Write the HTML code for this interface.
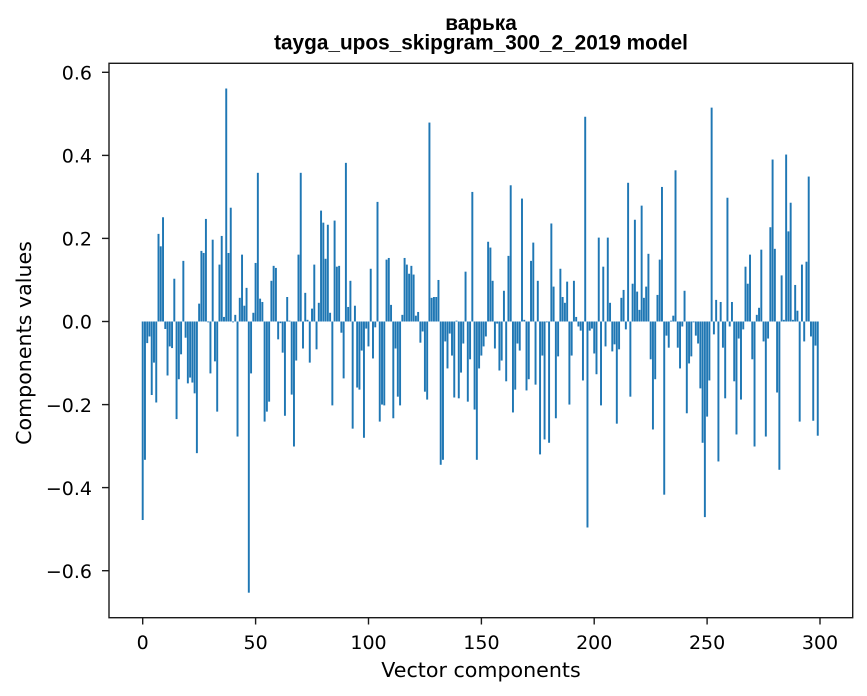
<!DOCTYPE html>
<html><head><meta charset="utf-8"><style>
html,body{margin:0;padding:0;background:#fff;}
svg{display:block;}
.t{font-family:"DejaVu Sans","Liberation Sans",sans-serif;font-size:19px;fill:#000;}
.l{font-family:"DejaVu Sans","Liberation Sans",sans-serif;font-size:20.6px;fill:#000;}
.ti{font-family:"Liberation Sans","DejaVu Sans",sans-serif;font-weight:bold;font-size:20.8px;fill:#000;}
</style></head><body>
<svg width="867" height="696" viewBox="0 0 867 696" xmlns="http://www.w3.org/2000/svg">
<rect x="0" y="0" width="867" height="696" fill="#fff"/>
<text class="ti" x="481" y="30" text-anchor="middle">варька</text>
<text class="ti" x="481" y="49.3" text-anchor="middle">tayga_upos_skipgram_300_2_2019 model</text>
<g transform="translate(142.7,321.5) scale(2.2577,-415.3)" fill="#1f77b4">
<rect x="-0.43" y="-0.478" width="0.86" height="0.478"/>
<rect x="0.57" y="-0.333" width="0.86" height="0.333"/>
<rect x="1.57" y="-0.052" width="0.86" height="0.052"/>
<rect x="2.57" y="-0.036" width="0.86" height="0.036"/>
<rect x="3.57" y="-0.177" width="0.86" height="0.177"/>
<rect x="4.57" y="-0.099" width="0.86" height="0.099"/>
<rect x="5.57" y="-0.195" width="0.86" height="0.195"/>
<rect x="6.57" y="0" width="0.86" height="0.211"/>
<rect x="7.57" y="0" width="0.86" height="0.181"/>
<rect x="8.57" y="0" width="0.86" height="0.251"/>
<rect x="9.57" y="-0.018" width="0.86" height="0.018"/>
<rect x="10.57" y="-0.130" width="0.86" height="0.130"/>
<rect x="11.57" y="-0.060" width="0.86" height="0.060"/>
<rect x="12.57" y="-0.064" width="0.86" height="0.064"/>
<rect x="13.57" y="0" width="0.86" height="0.103"/>
<rect x="14.57" y="-0.235" width="0.86" height="0.235"/>
<rect x="15.57" y="-0.139" width="0.86" height="0.139"/>
<rect x="16.57" y="-0.079" width="0.86" height="0.079"/>
<rect x="17.57" y="0" width="0.86" height="0.146"/>
<rect x="18.57" y="-0.039" width="0.86" height="0.039"/>
<rect x="19.57" y="-0.149" width="0.86" height="0.149"/>
<rect x="20.57" y="-0.135" width="0.86" height="0.135"/>
<rect x="21.57" y="-0.147" width="0.86" height="0.147"/>
<rect x="22.57" y="-0.173" width="0.86" height="0.173"/>
<rect x="23.57" y="-0.317" width="0.86" height="0.317"/>
<rect x="24.57" y="0" width="0.86" height="0.043"/>
<rect x="25.57" y="0" width="0.86" height="0.170"/>
<rect x="26.57" y="0" width="0.86" height="0.165"/>
<rect x="27.57" y="0" width="0.86" height="0.247"/>
<rect x="28.57" y="-0.002" width="0.86" height="0.002"/>
<rect x="29.57" y="-0.125" width="0.86" height="0.125"/>
<rect x="30.57" y="0" width="0.86" height="0.197"/>
<rect x="31.57" y="-0.096" width="0.86" height="0.096"/>
<rect x="32.57" y="-0.217" width="0.86" height="0.217"/>
<rect x="33.57" y="0" width="0.86" height="0.137"/>
<rect x="34.57" y="0" width="0.86" height="0.206"/>
<rect x="35.57" y="0" width="0.86" height="0.011"/>
<rect x="36.57" y="0" width="0.86" height="0.561"/>
<rect x="37.57" y="0" width="0.86" height="0.165"/>
<rect x="38.57" y="0" width="0.86" height="0.274"/>
<rect x="39.57" y="-0.002" width="0.86" height="0.002"/>
<rect x="40.57" y="0" width="0.86" height="0.016"/>
<rect x="41.57" y="-0.277" width="0.86" height="0.277"/>
<rect x="42.57" y="0" width="0.86" height="0.057"/>
<rect x="43.57" y="0" width="0.86" height="0.161"/>
<rect x="44.57" y="0" width="0.86" height="0.038"/>
<rect x="45.57" y="0" width="0.86" height="0.081"/>
<rect x="46.57" y="-0.653" width="0.86" height="0.653"/>
<rect x="47.57" y="-0.125" width="0.86" height="0.125"/>
<rect x="48.57" y="0" width="0.86" height="0.021"/>
<rect x="49.57" y="0" width="0.86" height="0.141"/>
<rect x="50.57" y="0" width="0.86" height="0.358"/>
<rect x="51.57" y="0" width="0.86" height="0.055"/>
<rect x="52.57" y="0" width="0.86" height="0.047"/>
<rect x="53.57" y="-0.241" width="0.86" height="0.241"/>
<rect x="54.57" y="-0.217" width="0.86" height="0.217"/>
<rect x="55.57" y="-0.193" width="0.86" height="0.193"/>
<rect x="56.57" y="0" width="0.86" height="0.098"/>
<rect x="57.57" y="0" width="0.86" height="0.134"/>
<rect x="58.57" y="0" width="0.86" height="0.129"/>
<rect x="59.57" y="-0.043" width="0.86" height="0.043"/>
<rect x="60.57" y="-0.004" width="0.86" height="0.004"/>
<rect x="61.57" y="-0.075" width="0.86" height="0.075"/>
<rect x="62.57" y="-0.227" width="0.86" height="0.227"/>
<rect x="63.57" y="0" width="0.86" height="0.059"/>
<rect x="64.57" y="0" width="0.86" height="0.002"/>
<rect x="65.57" y="-0.176" width="0.86" height="0.176"/>
<rect x="66.57" y="-0.301" width="0.86" height="0.301"/>
<rect x="67.57" y="-0.094" width="0.86" height="0.094"/>
<rect x="68.57" y="0" width="0.86" height="0.161"/>
<rect x="69.57" y="0" width="0.86" height="0.358"/>
<rect x="70.57" y="-0.065" width="0.86" height="0.065"/>
<rect x="71.57" y="0" width="0.86" height="0.069"/>
<rect x="72.57" y="0" width="0.86" height="0.004"/>
<rect x="73.57" y="-0.099" width="0.86" height="0.099"/>
<rect x="74.57" y="0" width="0.86" height="0.031"/>
<rect x="75.57" y="0" width="0.86" height="0.137"/>
<rect x="76.57" y="-0.067" width="0.86" height="0.067"/>
<rect x="77.57" y="0" width="0.86" height="0.045"/>
<rect x="78.57" y="0" width="0.86" height="0.267"/>
<rect x="79.57" y="0" width="0.86" height="0.238"/>
<rect x="80.57" y="0" width="0.86" height="0.151"/>
<rect x="81.57" y="0" width="0.86" height="0.233"/>
<rect x="82.57" y="0" width="0.86" height="0.021"/>
<rect x="83.57" y="-0.202" width="0.86" height="0.202"/>
<rect x="84.57" y="0" width="0.86" height="0.243"/>
<rect x="85.57" y="0" width="0.86" height="0.132"/>
<rect x="86.57" y="0" width="0.86" height="0.134"/>
<rect x="87.57" y="-0.027" width="0.86" height="0.027"/>
<rect x="88.57" y="-0.137" width="0.86" height="0.137"/>
<rect x="89.57" y="0" width="0.86" height="0.382"/>
<rect x="90.57" y="0" width="0.86" height="0.035"/>
<rect x="91.57" y="0" width="0.86" height="0.098"/>
<rect x="92.57" y="-0.258" width="0.86" height="0.258"/>
<rect x="93.57" y="0" width="0.86" height="0.038"/>
<rect x="94.57" y="-0.159" width="0.86" height="0.159"/>
<rect x="95.57" y="-0.164" width="0.86" height="0.164"/>
<rect x="96.57" y="-0.070" width="0.86" height="0.070"/>
<rect x="97.57" y="-0.280" width="0.86" height="0.280"/>
<rect x="98.57" y="-0.017" width="0.86" height="0.017"/>
<rect x="99.57" y="-0.060" width="0.86" height="0.060"/>
<rect x="100.57" y="0" width="0.86" height="0.127"/>
<rect x="101.57" y="-0.089" width="0.86" height="0.089"/>
<rect x="102.57" y="-0.014" width="0.86" height="0.014"/>
<rect x="103.57" y="0" width="0.86" height="0.288"/>
<rect x="104.57" y="-0.241" width="0.86" height="0.241"/>
<rect x="105.57" y="-0.200" width="0.86" height="0.200"/>
<rect x="106.57" y="-0.202" width="0.86" height="0.202"/>
<rect x="107.57" y="0" width="0.86" height="0.149"/>
<rect x="108.57" y="0" width="0.86" height="0.153"/>
<rect x="109.57" y="0" width="0.86" height="0.040"/>
<rect x="110.57" y="-0.233" width="0.86" height="0.233"/>
<rect x="111.57" y="-0.065" width="0.86" height="0.065"/>
<rect x="112.57" y="-0.181" width="0.86" height="0.181"/>
<rect x="113.57" y="-0.202" width="0.86" height="0.202"/>
<rect x="114.57" y="0" width="0.86" height="0.016"/>
<rect x="115.57" y="0" width="0.86" height="0.153"/>
<rect x="116.57" y="0" width="0.86" height="0.137"/>
<rect x="117.57" y="0" width="0.86" height="0.115"/>
<rect x="118.57" y="0" width="0.86" height="0.134"/>
<rect x="119.57" y="0" width="0.86" height="0.113"/>
<rect x="120.57" y="0" width="0.86" height="0.014"/>
<rect x="121.57" y="0" width="0.86" height="0.023"/>
<rect x="122.57" y="-0.051" width="0.86" height="0.051"/>
<rect x="123.57" y="-0.024" width="0.86" height="0.024"/>
<rect x="124.57" y="-0.169" width="0.86" height="0.169"/>
<rect x="125.57" y="-0.188" width="0.86" height="0.188"/>
<rect x="126.57" y="0" width="0.86" height="0.479"/>
<rect x="127.57" y="0" width="0.86" height="0.057"/>
<rect x="128.57" y="0" width="0.86" height="0.059"/>
<rect x="129.57" y="0" width="0.86" height="0.059"/>
<rect x="130.57" y="0" width="0.86" height="0.100"/>
<rect x="131.57" y="-0.345" width="0.86" height="0.345"/>
<rect x="132.57" y="-0.333" width="0.86" height="0.333"/>
<rect x="133.57" y="-0.048" width="0.86" height="0.048"/>
<rect x="134.57" y="-0.113" width="0.86" height="0.113"/>
<rect x="135.57" y="-0.029" width="0.86" height="0.029"/>
<rect x="136.57" y="-0.082" width="0.86" height="0.082"/>
<rect x="137.57" y="-0.183" width="0.86" height="0.183"/>
<rect x="138.57" y="0" width="0.86" height="0.002"/>
<rect x="139.57" y="-0.185" width="0.86" height="0.185"/>
<rect x="140.57" y="-0.123" width="0.86" height="0.123"/>
<rect x="141.57" y="-0.053" width="0.86" height="0.053"/>
<rect x="142.57" y="0" width="0.86" height="0.120"/>
<rect x="143.57" y="-0.193" width="0.86" height="0.193"/>
<rect x="144.57" y="-0.091" width="0.86" height="0.091"/>
<rect x="145.57" y="0" width="0.86" height="0.312"/>
<rect x="146.57" y="-0.212" width="0.86" height="0.212"/>
<rect x="147.57" y="-0.333" width="0.86" height="0.333"/>
<rect x="148.57" y="-0.113" width="0.86" height="0.113"/>
<rect x="149.57" y="-0.082" width="0.86" height="0.082"/>
<rect x="150.57" y="-0.060" width="0.86" height="0.060"/>
<rect x="151.57" y="-0.036" width="0.86" height="0.036"/>
<rect x="152.57" y="0" width="0.86" height="0.192"/>
<rect x="153.57" y="0" width="0.86" height="0.178"/>
<rect x="154.57" y="0" width="0.86" height="0.098"/>
<rect x="155.57" y="-0.065" width="0.86" height="0.065"/>
<rect x="156.57" y="-0.005" width="0.86" height="0.005"/>
<rect x="157.57" y="-0.118" width="0.86" height="0.118"/>
<rect x="158.57" y="-0.094" width="0.86" height="0.094"/>
<rect x="159.57" y="0" width="0.86" height="0.074"/>
<rect x="160.57" y="-0.144" width="0.86" height="0.144"/>
<rect x="161.57" y="0" width="0.86" height="0.158"/>
<rect x="162.57" y="0" width="0.86" height="0.328"/>
<rect x="163.57" y="-0.219" width="0.86" height="0.219"/>
<rect x="164.57" y="-0.164" width="0.86" height="0.164"/>
<rect x="165.57" y="-0.053" width="0.86" height="0.053"/>
<rect x="166.57" y="-0.070" width="0.86" height="0.070"/>
<rect x="167.57" y="0" width="0.86" height="0.296"/>
<rect x="168.57" y="0" width="0.86" height="0.004"/>
<rect x="169.57" y="-0.166" width="0.86" height="0.166"/>
<rect x="170.57" y="-0.139" width="0.86" height="0.139"/>
<rect x="171.57" y="0" width="0.86" height="0.146"/>
<rect x="172.57" y="0" width="0.86" height="0.190"/>
<rect x="173.57" y="-0.152" width="0.86" height="0.152"/>
<rect x="174.57" y="0" width="0.86" height="0.098"/>
<rect x="175.57" y="-0.320" width="0.86" height="0.320"/>
<rect x="176.57" y="-0.082" width="0.86" height="0.082"/>
<rect x="177.57" y="-0.284" width="0.86" height="0.284"/>
<rect x="178.57" y="-0.002" width="0.86" height="0.002"/>
<rect x="179.57" y="-0.292" width="0.86" height="0.292"/>
<rect x="180.57" y="0" width="0.86" height="0.236"/>
<rect x="181.57" y="0" width="0.86" height="0.084"/>
<rect x="182.57" y="-0.233" width="0.86" height="0.233"/>
<rect x="183.57" y="-0.084" width="0.86" height="0.084"/>
<rect x="184.57" y="0" width="0.86" height="0.127"/>
<rect x="185.57" y="0" width="0.86" height="0.059"/>
<rect x="186.57" y="0" width="0.86" height="0.045"/>
<rect x="187.57" y="0" width="0.86" height="0.096"/>
<rect x="188.57" y="-0.200" width="0.86" height="0.200"/>
<rect x="189.57" y="-0.082" width="0.86" height="0.082"/>
<rect x="190.57" y="0" width="0.86" height="0.098"/>
<rect x="191.57" y="0" width="0.86" height="0.011"/>
<rect x="192.57" y="-0.012" width="0.86" height="0.012"/>
<rect x="193.57" y="-0.022" width="0.86" height="0.022"/>
<rect x="194.57" y="-0.142" width="0.86" height="0.142"/>
<rect x="195.57" y="0" width="0.86" height="0.493"/>
<rect x="196.57" y="-0.496" width="0.86" height="0.496"/>
<rect x="197.57" y="-0.022" width="0.86" height="0.022"/>
<rect x="198.57" y="-0.017" width="0.86" height="0.017"/>
<rect x="199.57" y="-0.077" width="0.86" height="0.077"/>
<rect x="200.57" y="-0.127" width="0.86" height="0.127"/>
<rect x="201.57" y="0" width="0.86" height="0.202"/>
<rect x="202.57" y="-0.202" width="0.86" height="0.202"/>
<rect x="203.57" y="0" width="0.86" height="0.132"/>
<rect x="204.57" y="-0.060" width="0.86" height="0.060"/>
<rect x="205.57" y="0" width="0.86" height="0.202"/>
<rect x="206.57" y="0" width="0.86" height="0.045"/>
<rect x="207.57" y="-0.072" width="0.86" height="0.072"/>
<rect x="208.57" y="-0.055" width="0.86" height="0.055"/>
<rect x="209.57" y="-0.246" width="0.86" height="0.246"/>
<rect x="210.57" y="-0.067" width="0.86" height="0.067"/>
<rect x="211.57" y="0" width="0.86" height="0.057"/>
<rect x="212.57" y="0" width="0.86" height="0.076"/>
<rect x="213.57" y="-0.019" width="0.86" height="0.019"/>
<rect x="214.57" y="0" width="0.86" height="0.334"/>
<rect x="215.57" y="-0.181" width="0.86" height="0.181"/>
<rect x="216.57" y="0" width="0.86" height="0.091"/>
<rect x="217.57" y="0" width="0.86" height="0.245"/>
<rect x="218.57" y="0" width="0.86" height="0.072"/>
<rect x="219.57" y="0" width="0.86" height="0.028"/>
<rect x="220.57" y="0" width="0.86" height="0.279"/>
<rect x="221.57" y="0" width="0.86" height="0.057"/>
<rect x="222.57" y="0" width="0.86" height="0.084"/>
<rect x="223.57" y="0" width="0.86" height="0.163"/>
<rect x="224.57" y="-0.091" width="0.86" height="0.091"/>
<rect x="225.57" y="-0.260" width="0.86" height="0.260"/>
<rect x="226.57" y="-0.139" width="0.86" height="0.139"/>
<rect x="227.57" y="0" width="0.86" height="0.064"/>
<rect x="228.57" y="0" width="0.86" height="0.149"/>
<rect x="229.57" y="0" width="0.86" height="0.324"/>
<rect x="230.57" y="-0.417" width="0.86" height="0.417"/>
<rect x="231.57" y="-0.034" width="0.86" height="0.034"/>
<rect x="232.57" y="-0.063" width="0.86" height="0.063"/>
<rect x="233.57" y="0" width="0.86" height="0.002"/>
<rect x="234.57" y="0" width="0.86" height="0.014"/>
<rect x="235.57" y="0" width="0.86" height="0.364"/>
<rect x="236.57" y="-0.063" width="0.86" height="0.063"/>
<rect x="237.57" y="-0.113" width="0.86" height="0.113"/>
<rect x="238.57" y="-0.012" width="0.86" height="0.012"/>
<rect x="239.57" y="0" width="0.86" height="0.074"/>
<rect x="240.57" y="-0.221" width="0.86" height="0.221"/>
<rect x="241.57" y="-0.101" width="0.86" height="0.101"/>
<rect x="242.57" y="-0.084" width="0.86" height="0.084"/>
<rect x="243.57" y="-0.002" width="0.86" height="0.002"/>
<rect x="244.57" y="-0.034" width="0.86" height="0.034"/>
<rect x="245.57" y="-0.053" width="0.86" height="0.053"/>
<rect x="246.57" y="-0.161" width="0.86" height="0.161"/>
<rect x="247.57" y="-0.292" width="0.86" height="0.292"/>
<rect x="248.57" y="-0.471" width="0.86" height="0.471"/>
<rect x="249.57" y="-0.229" width="0.86" height="0.229"/>
<rect x="250.57" y="-0.142" width="0.86" height="0.142"/>
<rect x="251.57" y="0" width="0.86" height="0.515"/>
<rect x="252.57" y="-0.031" width="0.86" height="0.031"/>
<rect x="253.57" y="0" width="0.86" height="0.052"/>
<rect x="254.57" y="-0.337" width="0.86" height="0.337"/>
<rect x="255.57" y="0" width="0.86" height="0.047"/>
<rect x="256.57" y="-0.063" width="0.86" height="0.063"/>
<rect x="257.57" y="-0.185" width="0.86" height="0.185"/>
<rect x="258.57" y="0" width="0.86" height="0.298"/>
<rect x="259.57" y="-0.012" width="0.86" height="0.012"/>
<rect x="260.57" y="0" width="0.86" height="0.047"/>
<rect x="261.57" y="-0.144" width="0.86" height="0.144"/>
<rect x="262.57" y="-0.272" width="0.86" height="0.272"/>
<rect x="263.57" y="-0.041" width="0.86" height="0.041"/>
<rect x="264.57" y="-0.188" width="0.86" height="0.188"/>
<rect x="265.57" y="-0.019" width="0.86" height="0.019"/>
<rect x="266.57" y="0" width="0.86" height="0.132"/>
<rect x="267.57" y="0" width="0.86" height="0.091"/>
<rect x="268.57" y="0" width="0.86" height="0.161"/>
<rect x="269.57" y="-0.091" width="0.86" height="0.091"/>
<rect x="270.57" y="-0.301" width="0.86" height="0.301"/>
<rect x="271.57" y="0" width="0.86" height="0.016"/>
<rect x="272.57" y="0" width="0.86" height="0.033"/>
<rect x="273.57" y="0" width="0.86" height="0.173"/>
<rect x="274.57" y="-0.048" width="0.86" height="0.048"/>
<rect x="275.57" y="-0.277" width="0.86" height="0.277"/>
<rect x="276.57" y="-0.041" width="0.86" height="0.041"/>
<rect x="277.57" y="0" width="0.86" height="0.227"/>
<rect x="278.57" y="0" width="0.86" height="0.390"/>
<rect x="279.57" y="0" width="0.86" height="0.175"/>
<rect x="280.57" y="-0.171" width="0.86" height="0.171"/>
<rect x="281.57" y="-0.357" width="0.86" height="0.357"/>
<rect x="282.57" y="0" width="0.86" height="0.111"/>
<rect x="283.57" y="0" width="0.86" height="0.004"/>
<rect x="284.57" y="0" width="0.86" height="0.402"/>
<rect x="285.57" y="0" width="0.86" height="0.217"/>
<rect x="286.57" y="0" width="0.86" height="0.286"/>
<rect x="287.57" y="0" width="0.86" height="0.004"/>
<rect x="288.57" y="0" width="0.86" height="0.088"/>
<rect x="289.57" y="0" width="0.86" height="0.026"/>
<rect x="290.57" y="-0.241" width="0.86" height="0.241"/>
<rect x="291.57" y="0" width="0.86" height="0.137"/>
<rect x="292.57" y="-0.048" width="0.86" height="0.048"/>
<rect x="293.57" y="0" width="0.86" height="0.144"/>
<rect x="294.57" y="0" width="0.86" height="0.349"/>
<rect x="295.57" y="-0.036" width="0.86" height="0.036"/>
<rect x="296.57" y="-0.239" width="0.86" height="0.239"/>
<rect x="297.57" y="-0.058" width="0.86" height="0.058"/>
<rect x="298.57" y="-0.275" width="0.86" height="0.275"/>
</g>
<rect x="109" y="63.3" width="743.7" height="554.4" fill="none" stroke="#1a1a1a" stroke-width="1.4"/>
<g stroke="#1a1a1a" stroke-width="1.4">
<line x1="102" y1="72.3" x2="109" y2="72.3"/>
<line x1="102" y1="155.4" x2="109" y2="155.4"/>
<line x1="102" y1="238.4" x2="109" y2="238.4"/>
<line x1="102" y1="321.5" x2="109" y2="321.5"/>
<line x1="102" y1="404.6" x2="109" y2="404.6"/>
<line x1="102" y1="487.6" x2="109" y2="487.6"/>
<line x1="102" y1="570.7" x2="109" y2="570.7"/>
<line x1="142.7" y1="617.7" x2="142.7" y2="624.5"/>
<line x1="255.6" y1="617.7" x2="255.6" y2="624.5"/>
<line x1="368.5" y1="617.7" x2="368.5" y2="624.5"/>
<line x1="481.4" y1="617.7" x2="481.4" y2="624.5"/>
<line x1="594.2" y1="617.7" x2="594.2" y2="624.5"/>
<line x1="707.1" y1="617.7" x2="707.1" y2="624.5"/>
<line x1="820" y1="617.7" x2="820" y2="624.5"/>
</g>
<g class="t" text-anchor="end">
<text x="92" y="79.5">0.6</text>
<text x="92" y="162.6">0.4</text>
<text x="92" y="245.6">0.2</text>
<text x="92" y="328.7">0.0</text>
<text x="92" y="411.8">−0.2</text>
<text x="92" y="494.8">−0.4</text>
<text x="92" y="577.9">−0.6</text>
</g>
<g class="t" text-anchor="middle">
<text x="142.7" y="649">0</text>
<text x="255.6" y="649">50</text>
<text x="368.5" y="649">100</text>
<text x="481.4" y="649">150</text>
<text x="594.2" y="649">200</text>
<text x="707.1" y="649">250</text>
<text x="820" y="649">300</text>
</g>
<text class="l" x="481" y="677" text-anchor="middle">Vector components</text>
<text class="l" x="0" y="0" text-anchor="middle" transform="translate(31,343) rotate(-90)">Components values</text>
</svg>
</body></html>
